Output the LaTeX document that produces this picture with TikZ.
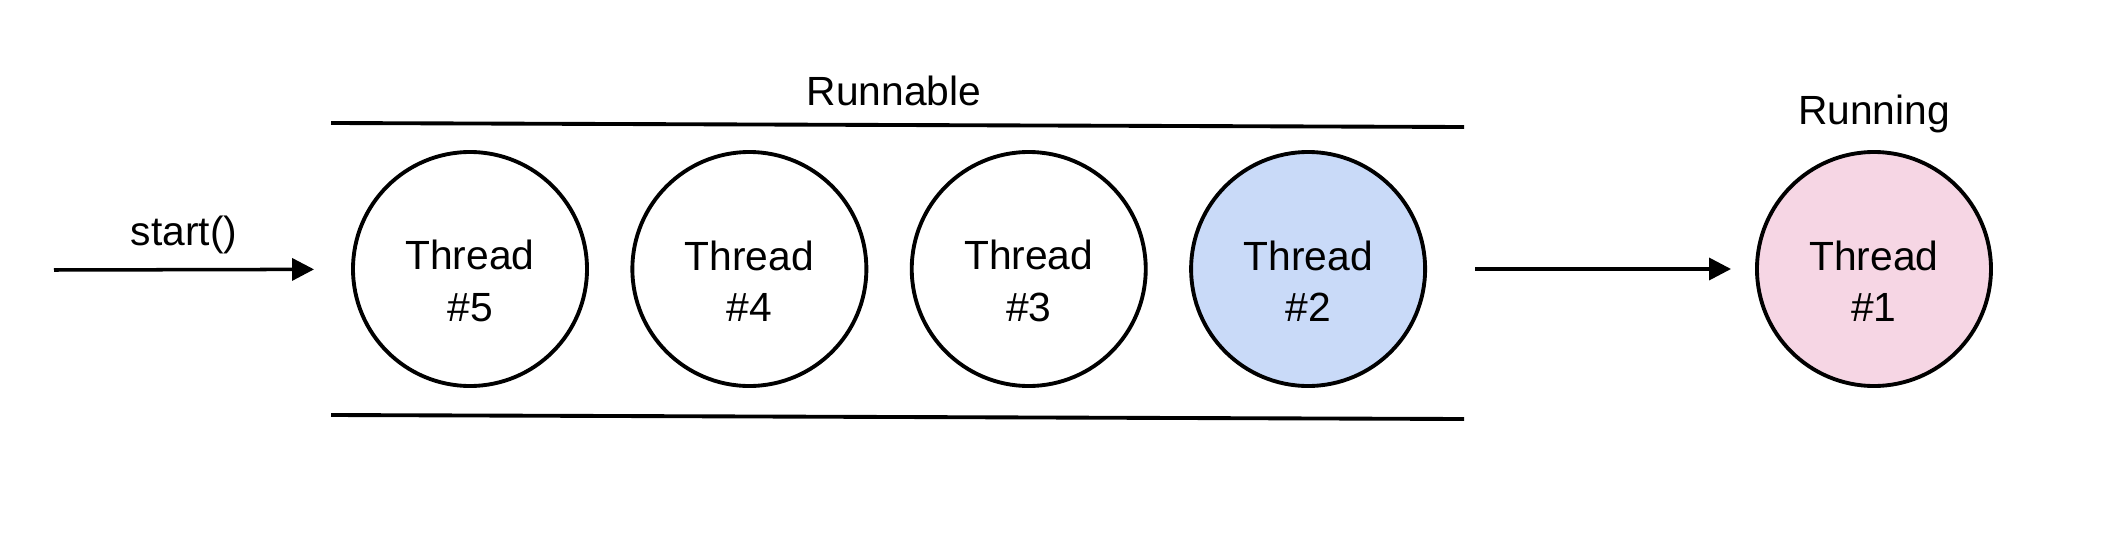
\documentclass[tikz,border=0pt]{standalone}
\usepackage{fontspec}
\setmainfont{Liberation Sans}
\usepackage{tikz}
\usetikzlibrary{arrows.meta, positioning}
\definecolor{queueblue}{RGB}{201, 218, 248}
\definecolor{runpink}{RGB}{246, 214, 228}

\begin{document}
\begin{tikzpicture}[
    node distance=0.415cm,
    every node/.style={font=\fontsize{11.6}{14.6}\selectfont},
    thread/.style={circle, draw, line width=1.1pt, minimum size=2.34cm, inner sep=0pt, align=center, text height=29.8pt},
    arrow/.style={-{Triangle[length=2.2mm, width=2.2mm]}, line width=1pt},
    bar/.style={line width=1.1pt}
]
\useasboundingbox (0,0) rectangle (21.2,5.48);
\node[thread] (t5) at (4.70,2.79) {Thread\\\#5};
\node[thread, right=of t5] (t4) {Thread\\\#4};
\node[thread, right=of t4] (t3) {Thread\\\#3};
\node[thread, fill=queueblue, right=of t3] (t2) {Thread\\\#2};
\node[thread, fill=runpink, right=3.28cm of t2] (t1) {Thread\\\#1};
% runnable queue
\coordinate (qtl) at (3.31,4.25);
\coordinate (qtr) at (14.64,4.21);
\coordinate (qbl) at (3.31,1.33);
\coordinate (qbr) at (14.64,1.29);
\draw[bar] (qtl) -- (qtr);
\draw[bar] (qbl) -- (qbr);
\node[anchor=base] (runnable) at (8.94,4.43) {Runnable};
\node[above=0.05cm of t1] (running) {Running};
% arrows
\coordinate (src) at (0.54,2.78);
\draw[arrow, shorten >=0.37cm] (src) -- (t5);
\node[anchor=base] (start) at (1.84,3.03) {start()};
\draw[arrow, shorten <=0.48cm, shorten >=0.24cm] (t2) -- (t1);
\end{tikzpicture}
\end{document}
